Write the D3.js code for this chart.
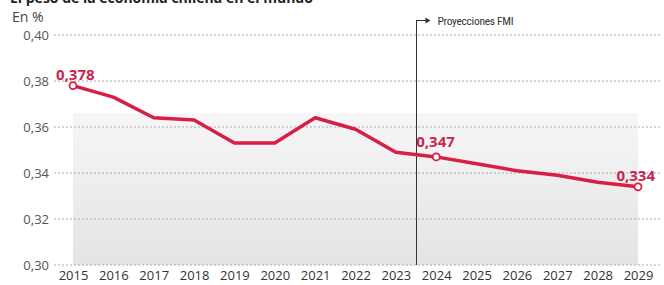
<!DOCTYPE html>
<html>
<head>
<meta charset="utf-8">
<script src="https://cdn.jsdelivr.net/npm/d3@7"></script>
<style>
  body { margin: 0; background: #fff; }
  svg { font-family: "Open Sans", sans-serif; }
</style>
</head>
<body>
<svg id="chart" width="664" height="285"></svg>
<script>
const years = [2015, 2016, 2017, 2018, 2019, 2020, 2021, 2022, 2023, 2024, 2025, 2026, 2027, 2028, 2029];
const share = [0.378, 0.373, 0.364, 0.363, 0.353, 0.353, 0.364, 0.359, 0.349, 0.347, 0.344, 0.341, 0.339, 0.336, 0.334];
const yTicks = [0.30, 0.32, 0.34, 0.36, 0.38, 0.40];
const labelled = [2015, 2024, 2029];
const projectionStart = 2023.5;

const svg = d3.select('#chart');
const width = 664, height = 285,
  margin = {top: 35, right: 26, bottom: 20, left: 73};

const fmt = v => d3.format('.2f')(v).replace('.', ',');
const fmt3 = v => d3.format('.3f')(v).replace('.', ',');

const x = d3.scaleLinear()
  .domain([2015, 2029])
  .range([margin.left, width - margin.right]);

const y = d3.scaleLinear()
  .domain([0.30, 0.40])
  .range([height - margin.bottom, margin.top]);

// grey gradient backdrop
const defs = svg.append('defs');
const grad = defs.append('linearGradient')
  .attr('id', 'bg').attr('x1', 0).attr('x2', 0).attr('y1', 0).attr('y2', 1);
grad.append('stop').attr('offset', '0%').attr('stop-color', '#f6f6f6');
grad.append('stop').attr('offset', '100%').attr('stop-color', '#e4e4e4');

svg.append('rect')
  .attr('x', x(2015))
  .attr('y', y(0.366))
  .attr('width', x(2029) - x(2015))
  .attr('height', y(0.30) - y(0.366))
  .attr('fill', 'url(#bg)');

// title (cut off at top) and unit
svg.append('text')
  .attr('x', 10).attr('y', 3)
  .attr('font-size', 14).attr('font-weight', 700).attr('fill', '#222')
  .text('El peso de la economía chilena en el mundo');

svg.append('text')
  .attr('x', 12).attr('y', 22)
  .attr('font-size', 14).attr('fill', '#444')
  .text('En %');

// y axis
const yAxis = svg.append('g')
  .attr('transform', `translate(${margin.left}, 0)`)
  .call(d3.axisLeft(y).tickValues(yTicks).tickFormat(fmt).tickSize(0).tickPadding(24));
yAxis.select('.domain').remove();
yAxis.selectAll('text').attr('font-size', 13).attr('fill', '#555').attr('font-family', '"Open Sans", sans-serif');

svg.append('g')
  .selectAll('line')
  .data(yTicks)
  .join('line')
    .attr('x1', 54).attr('x2', 660)
    .attr('y1', d => y(d)).attr('y2', d => y(d))
    .attr('stroke', '#aaa')
    .attr('stroke-width', 1)
    .attr('stroke-dasharray', '2,2');

// x axis
const xAxis = svg.append('g')
  .attr('transform', `translate(0, ${height - margin.bottom})`)
  .call(d3.axisBottom(x).tickValues(years).tickFormat(d3.format('')).tickSize(0).tickPadding(6));
xAxis.select('.domain').remove();
xAxis.selectAll('text').attr('font-size', 13).attr('fill', '#333').attr('font-family', '"Open Sans", sans-serif');

// projection marker
const px = Math.round(x(projectionStart)) + 0.5;
svg.append('line')
  .attr('x1', px).attr('x2', px)
  .attr('y1', 20).attr('y2', y(0.30))
  .attr('stroke', '#333').attr('stroke-width', 1);
svg.append('line')
  .attr('x1', px).attr('x2', px + 10)
  .attr('y1', 20.5).attr('y2', 20.5)
  .attr('stroke', '#333').attr('stroke-width', 1);
svg.append('path')
  .attr('d', `M${px + 9},17.5 L${px + 14},20.5 L${px + 9},23.5 Z`)
  .attr('fill', '#333');
svg.append('text')
  .attr('x', px + 21).attr('y', 25)
  .attr('font-size', 11.5).attr('fill', '#333')
  .attr('font-family', '"Liberation Sans Narrow", "Roboto Condensed", sans-serif')
  .attr('letter-spacing', '-0.3')
  .text('Proyecciones FMI');

// line
const data = years.map((yr, i) => ({year: yr, value: share[i]}));
const line = d3.line()
  .x(d => x(d.year))
  .y(d => y(d.value));

svg.append('path')
  .datum(data)
  .attr('d', line)
  .attr('fill', 'none')
  .attr('stroke', '#d81e45')
  .attr('stroke-width', 3.5)
  .attr('stroke-linejoin', 'round');

const marked = data.filter(d => labelled.includes(d.year));

svg.selectAll('circle.pt')
  .data(marked)
  .join('circle')
    .attr('class', 'pt')
    .attr('cx', d => x(d.year))
    .attr('cy', d => y(d.value))
    .attr('r', 3.5)
    .attr('fill', '#fff')
    .attr('stroke', '#d81e45')
    .attr('stroke-width', 1.8);

const labelPos = {
  2015: {dx: -17, dy: -6, anchor: 'start'},
  2024: {dx: -20, dy: -10, anchor: 'start'},
  2029: {dx: 17, dy: -6, anchor: 'end'}
};

svg.selectAll('text.val')
  .data(marked)
  .join('text')
    .attr('class', 'val')
    .attr('x', d => x(d.year) + labelPos[d.year].dx)
    .attr('y', d => y(d.value) + labelPos[d.year].dy)
    .attr('text-anchor', d => labelPos[d.year].anchor)
    .attr('font-size', 15)
    .attr('font-weight', 700)
    .attr('fill', '#c8264e')
    .text(d => fmt3(d.value));
</script>
</body>
</html>
